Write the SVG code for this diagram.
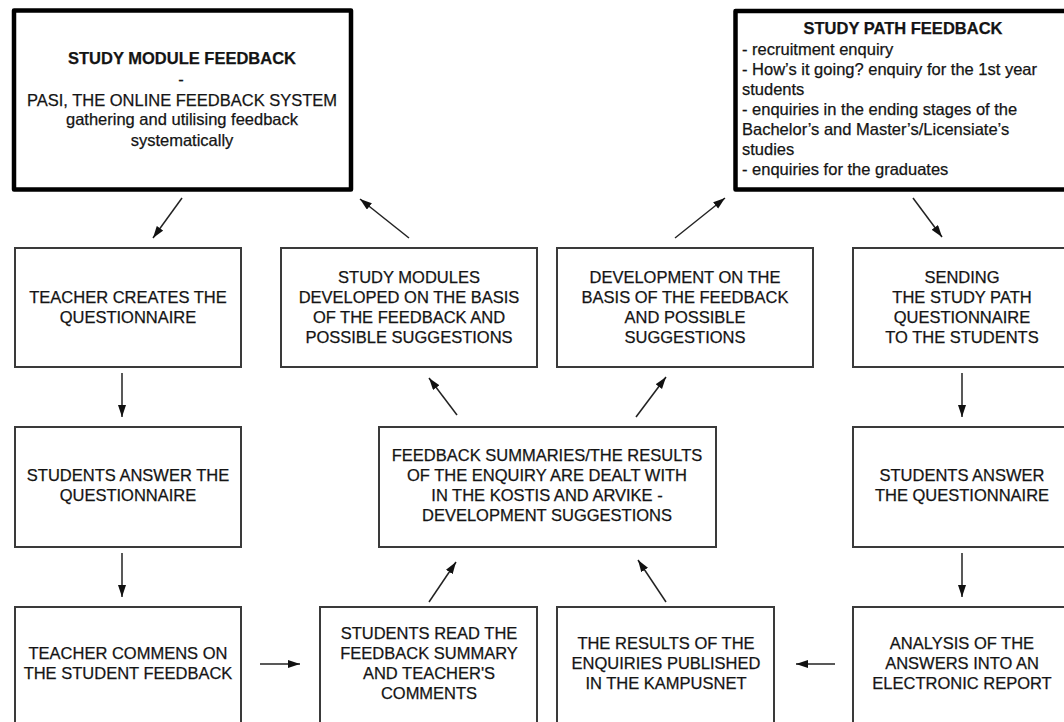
<svg xmlns="http://www.w3.org/2000/svg" width="1064" height="722" viewBox="0 0 1064 722">
  <style>
    .bg { fill: #ffffff; }
    .box { fill: #ffffff; stroke: #3a3a3a; stroke-width: 2; }
    .main { fill: #ffffff; stroke: #000000; stroke-width: 4.5; stroke-linejoin: round; }
    text { font-family: "Liberation Sans", Arial, sans-serif; font-size: 16.5px; fill: #141414; stroke: #141414; stroke-width: 0.25; }
    .c { text-anchor: middle; }
    .b { font-weight: bold; }
    .conn line { stroke: #222222; stroke-width: 1.5; marker-end: url(#head); }
  </style>
  <defs>
    <marker id="head" markerUnits="userSpaceOnUse" markerWidth="13" markerHeight="9" refX="12" refY="4" orient="auto">
      <path d="M0,0 L12,4 L0,8 z" fill="#111111"/>
    </marker>
  </defs>
  <rect class="bg" x="0" y="0" width="1064" height="722"/>

  <!-- top: study module feedback -->
  <g id="study-module-feedback">
    <rect class="main" x="14" y="10.5" width="337" height="179"/>
    <text class="c b" x="182" y="64">STUDY MODULE FEEDBACK</text>
    <text class="c" x="181" y="85">-</text>
    <text class="c" x="182" y="106">PASI, THE ONLINE FEEDBACK SYSTEM</text>
    <text class="c" x="182" y="125">gathering and utilising feedback</text>
    <text class="c" x="182" y="146">systematically</text>
  </g>

  <!-- top: study path feedback -->
  <g id="study-path-feedback">
    <rect class="main" x="735.5" y="11" width="340" height="178.5"/>
    <text class="c b" x="903" y="34">STUDY PATH FEEDBACK</text>
    <text x="742" y="55">- recruitment enquiry</text>
    <text x="742" y="75">- How’s it going? enquiry for the 1st year</text>
    <text x="742" y="95">students</text>
    <text x="742" y="115">- enquiries in the ending stages of the</text>
    <text x="742" y="135">Bachelor’s and Master’s/Licensiate’s</text>
    <text x="742" y="155">studies</text>
    <text x="742" y="175">- enquiries for the graduates</text>
  </g>

  <!-- second row -->
  <g id="teacher-creates">
    <rect class="box" x="15" y="248" width="226" height="119"/>
    <text class="c" x="128" y="303">TEACHER CREATES THE</text>
    <text class="c" x="128" y="323">QUESTIONNAIRE</text>
  </g>
  <g id="modules-developed">
    <rect class="box" x="281" y="248" width="256" height="119"/>
    <text class="c" x="409" y="283">STUDY MODULES</text>
    <text class="c" x="409" y="303">DEVELOPED ON THE BASIS</text>
    <text class="c" x="409" y="323">OF THE FEEDBACK AND</text>
    <text class="c" x="409" y="343">POSSIBLE SUGGESTIONS</text>
  </g>
  <g id="development">
    <rect class="box" x="557" y="248" width="256" height="119"/>
    <text class="c" x="685" y="283">DEVELOPMENT ON THE</text>
    <text class="c" x="685" y="303">BASIS OF THE FEEDBACK</text>
    <text class="c" x="685" y="323">AND POSSIBLE</text>
    <text class="c" x="685" y="343">SUGGESTIONS</text>
  </g>
  <g id="sending">
    <rect class="box" x="853" y="248" width="220" height="119"/>
    <text class="c" x="962" y="283">SENDING</text>
    <text class="c" x="962" y="303">THE STUDY PATH</text>
    <text class="c" x="962" y="323">QUESTIONNAIRE</text>
    <text class="c" x="962" y="343">TO THE STUDENTS</text>
  </g>

  <!-- third row -->
  <g id="students-answer-module">
    <rect class="box" x="15" y="427" width="226" height="120"/>
    <text class="c" x="128" y="481">STUDENTS ANSWER THE</text>
    <text class="c" x="128" y="501">QUESTIONNAIRE</text>
  </g>
  <g id="summaries">
    <rect class="box" x="379" y="427" width="337" height="120"/>
    <text class="c" x="547" y="461">FEEDBACK SUMMARIES/THE RESULTS</text>
    <text class="c" x="547" y="481">OF THE ENQUIRY ARE DEALT WITH</text>
    <text class="c" x="547" y="501">IN THE KOSTIS AND ARVIKE -</text>
    <text class="c" x="547" y="521">DEVELOPMENT SUGGESTIONS</text>
  </g>
  <g id="students-answer-path">
    <rect class="box" x="853" y="427" width="220" height="120"/>
    <text class="c" x="962" y="481">STUDENTS ANSWER</text>
    <text class="c" x="962" y="501">THE QUESTIONNAIRE</text>
  </g>

  <!-- bottom row -->
  <g id="teacher-comments">
    <rect class="box" x="15" y="607" width="226" height="130"/>
    <text class="c" x="128" y="659">TEACHER COMMENS ON</text>
    <text class="c" x="128" y="679">THE STUDENT FEEDBACK</text>
  </g>
  <g id="students-read">
    <rect class="box" x="320" y="607" width="217" height="130"/>
    <text class="c" x="429" y="639">STUDENTS READ THE</text>
    <text class="c" x="429" y="659">FEEDBACK SUMMARY</text>
    <text class="c" x="429" y="679">AND TEACHER'S</text>
    <text class="c" x="429" y="699">COMMENTS</text>
  </g>
  <g id="results-published">
    <rect class="box" x="557" y="607" width="217" height="130"/>
    <text class="c" x="666" y="649">THE RESULTS OF THE</text>
    <text class="c" x="666" y="669">ENQUIRIES PUBLISHED</text>
    <text class="c" x="666" y="689">IN THE KAMPUSNET</text>
  </g>
  <g id="analysis">
    <rect class="box" x="853" y="607" width="220" height="130"/>
    <text class="c" x="962" y="649">ANALYSIS OF THE</text>
    <text class="c" x="962" y="669">ANSWERS INTO AN</text>
    <text class="c" x="962" y="689">ELECTRONIC REPORT</text>
  </g>

  <!-- connectors -->
  <g id="connectors" class="conn">
    <line x1="182" y1="198" x2="153" y2="238"/>
    <line x1="409" y1="238" x2="360" y2="199"/>
    <line x1="675" y1="238" x2="725" y2="198"/>
    <line x1="913" y1="198" x2="942" y2="237"/>
    <line x1="122" y1="373" x2="122" y2="417"/>
    <line x1="122" y1="553" x2="122" y2="597"/>
    <line x1="260" y1="664" x2="300" y2="664"/>
    <line x1="429" y1="602" x2="456" y2="562"/>
    <line x1="666" y1="602" x2="638" y2="560"/>
    <line x1="457" y1="415" x2="429" y2="378"/>
    <line x1="636" y1="417" x2="666" y2="377"/>
    <line x1="962" y1="373" x2="962" y2="417"/>
    <line x1="962" y1="553" x2="962" y2="597"/>
    <line x1="835" y1="664" x2="796" y2="664"/>
  </g>
</svg>
